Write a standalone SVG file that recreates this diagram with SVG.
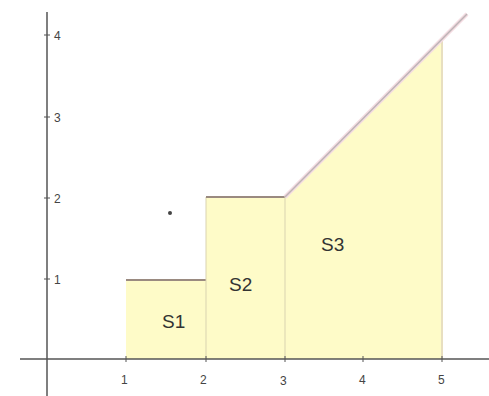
<svg xmlns="http://www.w3.org/2000/svg" width="489" height="396" viewBox="0 0 489 396">
<style>
.reg{fill:#fefbc8;stroke:none}
.edge{stroke:#d9d3b0;stroke-width:1;fill:none}
.top{stroke:#9a8a80;stroke-width:2;fill:none}
.axis{stroke:#555;stroke-width:1.5;fill:none}
.tick{stroke:#555;stroke-width:1}
.num{font-family:"Liberation Sans",Arial,sans-serif;font-size:12px;fill:#444}
.lab{font-family:"Liberation Sans",Arial,sans-serif;font-size:19px;fill:#333}
</style>
<rect width="489" height="396" fill="#fff"/>
<g id="S1">
<rect class="reg" x="126" y="280" width="80" height="79"/>
<line class="top" x1="126" y1="280" x2="206" y2="280" stroke="#b09088"/>
<text class="lab" x="162" y="328">S1</text>
</g>
<g id="S2">
<rect class="reg" x="206" y="197" width="79" height="162"/>
<line class="edge" x1="206" y1="197" x2="206" y2="359"/>
<line class="top" x1="206" y1="197" x2="285" y2="197"/>
<text class="lab" x="229" y="291">S2</text>
</g>
<g id="S3">
<polygon class="reg" points="285,197 442,40 442,359 285,359"/>
<line class="edge" x1="285" y1="197" x2="285" y2="359"/>
<line x1="442" y1="40" x2="442" y2="359" stroke="#e8dfc0" stroke-width="2"/>
<line x1="285" y1="197" x2="467" y2="14" stroke="#f4dce2" stroke-width="4"/>
<line x1="285" y1="197" x2="467" y2="14" stroke="#bdb4b6" stroke-width="1.5"/>
<text class="lab" x="321" y="251">S3</text>
</g>
<g id="axes">
<line class="axis" x1="47" y1="12" x2="47" y2="396"/>
<line class="axis" x1="20" y1="359" x2="489" y2="359"/>
<line class="tick" x1="44" y1="35" x2="50" y2="35"/>
<line class="tick" x1="44" y1="117" x2="50" y2="117"/>
<line class="tick" x1="44" y1="198" x2="50" y2="198"/>
<line class="tick" x1="44" y1="279" x2="50" y2="279"/>
<line class="tick" x1="126" y1="356" x2="126" y2="362"/>
<line class="tick" x1="206" y1="356" x2="206" y2="362"/>
<line class="tick" x1="285" y1="356" x2="285" y2="362"/>
<line class="tick" x1="363" y1="356" x2="363" y2="362"/>
<line class="tick" x1="442" y1="356" x2="442" y2="362"/>
<text class="num" x="54" y="40">4</text>
<text class="num" x="54" y="122">3</text>
<text class="num" x="54" y="203">2</text>
<text class="num" x="54" y="284">1</text>
<text class="num" x="121" y="384">1</text>
<text class="num" x="200" y="384">2</text>
<text class="num" x="280" y="385">3</text>
<text class="num" x="359" y="384">4</text>
<text class="num" x="438" y="384">5</text>
</g>
<g id="point">
<circle cx="170" cy="213" r="2" fill="#444"/>
</g>
</svg>
